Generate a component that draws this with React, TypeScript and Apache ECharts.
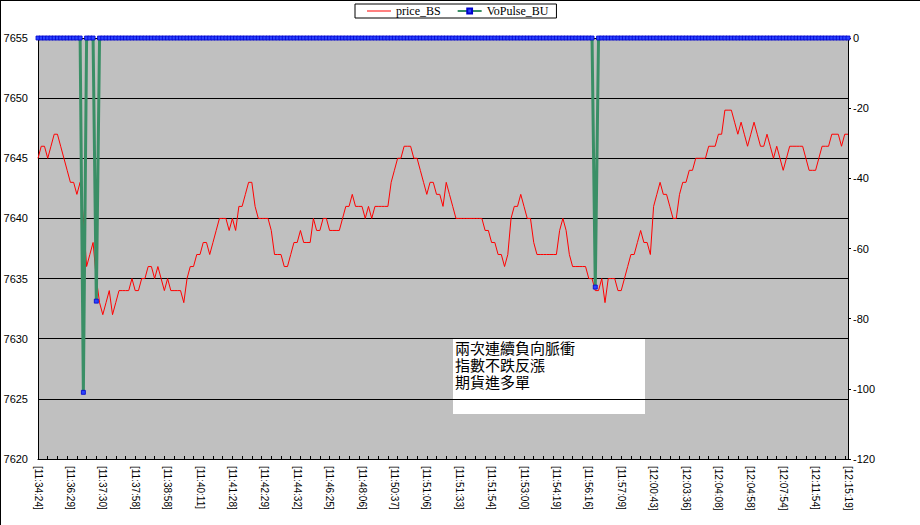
import React, { useEffect, useRef } from "react";
import * as echarts from "echarts";

const tickLabels = [
  "[11:34:24]", "[11:36:29]", "[11:37:30]", "[11:37:58]", "[11:38:58]", "[11:40:11]",
  "[11:41:28]", "[11:42:29]", "[11:44:32]", "[11:46:25]", "[11:48:06]", "[11:50:37]",
  "[11:51:06]", "[11:51:33]", "[11:51:54]", "[11:53:00]", "[11:54:19]", "[11:56:16]",
  "[11:57:09]", "[12:00:43]", "[12:03:36]", "[12:04:08]", "[12:04:58]", "[12:07:54]",
  "[12:11:54]", "[12:15:19]",
];

const priceBS = [
  7645, 7646, 7646, 7645, 7646, 7647, 7647, 7646, 7645, 7644,
  7643, 7643, 7642, 7643, 7640, 7636, 7637, 7638, 7635, 7633,
  7632, 7633, 7634, 7632, 7633, 7634, 7634, 7634, 7634, 7635,
  7634, 7634, 7635, 7635, 7636, 7636, 7635, 7636, 7635, 7634,
  7635, 7634, 7634, 7634, 7634, 7633, 7635, 7636, 7636, 7637,
  7637, 7638, 7638, 7637, 7638, 7639, 7640, 7640, 7640, 7639,
  7640, 7639, 7641, 7641, 7642, 7643, 7643, 7641, 7640, 7640,
  7640, 7640, 7639, 7637, 7637, 7637, 7636, 7636, 7637, 7638,
  7638, 7639, 7638, 7638, 7638, 7640, 7639, 7639, 7640, 7640,
  7639, 7639, 7639, 7639, 7640, 7641, 7641, 7642, 7641, 7641,
  7641, 7640, 7641, 7640, 7641, 7641, 7641, 7641, 7641, 7643,
  7644, 7645, 7645, 7646, 7646, 7646, 7645, 7645, 7644, 7643,
  7642, 7643, 7643, 7642, 7642, 7641, 7643, 7642, 7641, 7640,
  7640, 7640, 7640, 7640, 7640, 7640, 7640, 7640, 7639, 7639,
  7638, 7638, 7637, 7637, 7636, 7637, 7640, 7641, 7641, 7642,
  7641, 7640, 7640, 7638, 7637, 7637, 7637, 7637, 7637, 7637,
  7637, 7639, 7640, 7639, 7637, 7636, 7636, 7636, 7636, 7636,
  7635, 7635, 7634, 7634, 7635, 7633, 7635, 7635, 7635, 7634,
  7634, 7635, 7636, 7637, 7637, 7638, 7639, 7638, 7638, 7637,
  7641, 7642, 7643, 7642, 7642, 7641, 7640, 7640, 7642, 7643,
  7643, 7644, 7644, 7645, 7645, 7645, 7645, 7646, 7646, 7646,
  7647, 7647, 7649, 7649, 7649, 7648, 7647, 7648, 7647, 7646,
  7647, 7648, 7647, 7646, 7646, 7647, 7646, 7645, 7646, 7645,
  7644, 7645, 7646, 7646, 7646, 7646, 7646, 7645, 7644, 7644,
  7644, 7645, 7646, 7646, 7646, 7647, 7647, 7647, 7646, 7647,
  7647,
];

const voPulseBU = [
  0, 0, 0, 0, 0, 0, 0, 0, 0, 0,
  0, 0, 0, 0, -101, 0, 0, 0, -75, 0,
  0, 0, 0, 0, 0, 0, 0, 0, 0, 0,
  0, 0, 0, 0, 0, 0, 0, 0, 0, 0,
  0, 0, 0, 0, 0, 0, 0, 0, 0, 0,
  0, 0, 0, 0, 0, 0, 0, 0, 0, 0,
  0, 0, 0, 0, 0, 0, 0, 0, 0, 0,
  0, 0, 0, 0, 0, 0, 0, 0, 0, 0,
  0, 0, 0, 0, 0, 0, 0, 0, 0, 0,
  0, 0, 0, 0, 0, 0, 0, 0, 0, 0,
  0, 0, 0, 0, 0, 0, 0, 0, 0, 0,
  0, 0, 0, 0, 0, 0, 0, 0, 0, 0,
  0, 0, 0, 0, 0, 0, 0, 0, 0, 0,
  0, 0, 0, 0, 0, 0, 0, 0, 0, 0,
  0, 0, 0, 0, 0, 0, 0, 0, 0, 0,
  0, 0, 0, 0, 0, 0, 0, 0, 0, 0,
  0, 0, 0, 0, 0, 0, 0, 0, 0, 0,
  0, 0, -71, 0, 0, 0, 0, 0, 0, 0,
  0, 0, 0, 0, 0, 0, 0, 0, 0, 0,
  0, 0, 0, 0, 0, 0, 0, 0, 0, 0,
  0, 0, 0, 0, 0, 0, 0, 0, 0, 0,
  0, 0, 0, 0, 0, 0, 0, 0, 0, 0,
  0, 0, 0, 0, 0, 0, 0, 0, 0, 0,
  0, 0, 0, 0, 0, 0, 0, 0, 0, 0,
  0, 0, 0, 0, 0, 0, 0, 0, 0, 0,
  0,
];

const seriesNames = ["price_BS", "VoPulse_BU"];
const annotationLines = ["兩次連續負向脈衝", "指數不跌反漲", "期貨進多單"];
const LABEL_STEP = 10;

const categories = priceBS.map((_, i) =>
  i % LABEL_STEP === 0 ? tickLabels[i / LABEL_STEP] : `#${i}`
);

const FONT = "'Liberation Sans Narrow', 'Liberation Sans', Arial, sans-serif";
const CJK = "'Liberation Sans', 'Noto Sans CJK TC', 'Noto Sans CJK SC', sans-serif";
const GREEN = "#3a8f66";

export default function App() {
  const ref = useRef<HTMLDivElement>(null);

  useEffect(() => {
    if (!ref.current) return;
    const chart = echarts.init(ref.current, undefined, { renderer: "svg" });
    chart.setOption({
      animation: false,
      backgroundColor: "#ffffff",
      grid: {
        left: 38,
        right: 72,
        top: 38,
        bottom: 66,
        show: true,
        backgroundColor: "#c0c0c0",
        borderWidth: 0,
      },
      legend: {
        left: 355,
        top: 4,
        backgroundColor: "#ffffff",
        borderColor: "#000000",
        borderWidth: 1,
        borderRadius: 0,
        padding: [1, 8, 1, 12],
        itemGap: 16,
        itemWidth: 24,
        itemHeight: 6,
        textStyle: {
          fontFamily: "'Liberation Serif', 'Times New Roman', serif",
          fontSize: 12,
          color: "#000000",
        },
        data: [
          { name: seriesNames[0], icon: "path://M0,0h24v1h-24z" },
          { name: seriesNames[1] },
        ],
      },
      xAxis: {
        type: "category",
        data: categories,
        boundaryGap: false,
        axisLine: { onZero: false, lineStyle: { color: "#000000", width: 1 } },
        axisTick: {
          show: true,
          interval: 2,
          inside: true,
          length: 3,
          lineStyle: { color: "#000000" },
        },
        axisLabel: {
          interval: LABEL_STEP - 1,
          rotate: -90,
          margin: 7,
          fontFamily: FONT,
          fontSize: 10,
          color: "#000000",
        },
        splitLine: { show: false },
      },
      yAxis: [
        {
          type: "value",
          position: "left",
          min: 7620,
          max: 7655,
          interval: 5,
          axisLine: { show: true, lineStyle: { color: "#000000", width: 1 } },
          axisTick: { show: false },
          axisLabel: {
            margin: 10,
            fontFamily: FONT,
            fontSize: 11,
            color: "#000000",
            formatter: (v: number) => String(v),
          },
          splitLine: { show: true, lineStyle: { color: "#000000", width: 1 } },
        },
        {
          type: "value",
          position: "right",
          min: -120,
          max: 0,
          interval: 20,
          axisLine: { show: true, lineStyle: { color: "#000000", width: 1 } },
          axisTick: { show: true, length: 3, lineStyle: { color: "#000000" } },
          axisLabel: {
            margin: 5,
            fontFamily: FONT,
            fontSize: 11,
            color: "#000000",
            formatter: (v: number) => String(v),
          },
          splitLine: { show: false },
        },
      ],
      series: [
        {
          name: seriesNames[0],
          type: "line",
          yAxisIndex: 0,
          data: priceBS,
          symbol: "none",
          lineStyle: { color: "#ff0000", width: 1 },
          itemStyle: { color: "#ff0000" },
          z: 2,
        },
        {
          name: seriesNames[1],
          type: "line",
          yAxisIndex: 1,
          data: voPulseBU,
          symbol: "rect",
          symbolSize: 4,
          showSymbol: true,
          showAllSymbol: true,
          clip: false,
          lineStyle: { color: GREEN, width: 3 },
          itemStyle: { color: "#2a44ff", borderColor: "#0000cc", borderWidth: 0.8 },
          z: 3,
        },
      ],
      graphic: [
        {
          type: "line",
          shape: { x1: 0, y1: 0.5, x2: 920, y2: 0.5 },
          style: { stroke: "#000000", lineWidth: 1 },
          silent: true,
        },
        {
          type: "line",
          shape: { x1: 0.5, y1: 0, x2: 0.5, y2: 525 },
          style: { stroke: "#000000", lineWidth: 1 },
          silent: true,
        },
        {
          type: "group",
          left: 453,
          top: 338,
          z: 100,
          children: [
            {
              type: "rect",
              shape: { x: 0, y: 0, width: 192, height: 76 },
              style: { fill: "#ffffff", stroke: "none" },
            },
            ...annotationLines.map((line, k) => ({
              type: "text",
              x: 2,
              y: 2 + k * 17,
              style: {
                text: line,
                fill: "#000000",
                fontSize: 15,
                lineHeight: 16,
                fontFamily: CJK,
              },
            })),
          ],
        },
      ],
    });
    return () => chart.dispose();
  }, []);

  return (
    <div
      ref={ref}
      style={{ position: "fixed", left: 0, top: 0, width: 920, height: 525 }}
    />
  );
}
